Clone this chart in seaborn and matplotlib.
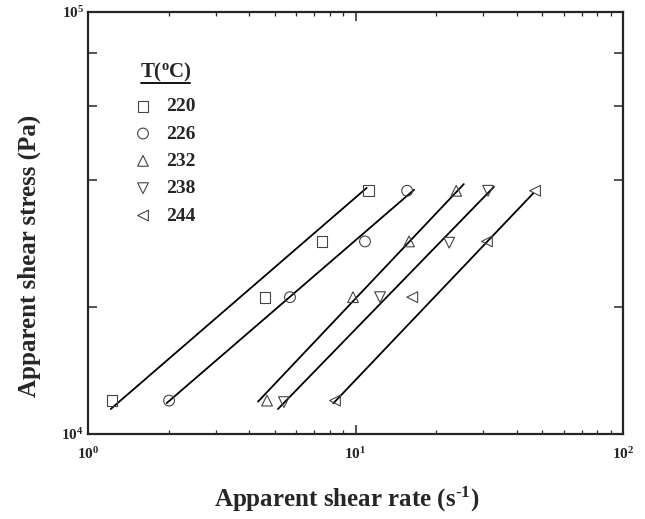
import matplotlib
matplotlib.use('Agg')
import matplotlib.pyplot as plt
import matplotlib.ticker as mticker
import seaborn as sns
import numpy as np
import pandas as pd

# temperatures (legend) and marker shapes
temps = ['220', '226', '232', '238', '244']
markers = ['s', 'o', '^', 'v', '<']

# shear stress levels (Pa), same for every temperature
stress = [1.20e4, 2.11e4, 2.86e4, 3.77e4]

# apparent shear rate (1/s) for each temperature
rate_220 = [1.23, 4.59, 7.49, 11.2]
rate_226 = [2.01, 5.69, 10.85, 15.6]
rate_232 = [4.67, 9.79, 15.85, 23.8]
rate_238 = [5.40, 12.35, 22.4, 31.3]
rate_244 = [8.38, 16.3, 31.0, 46.9]
stress_238 = [1.19e4, 2.11e4, 2.84e4, 3.77e4]

# fitted lines: start / end points
fit_x0 = [1.216, 1.97, 4.32, 5.13, 8.26]
fit_x1 = [11.01, 16.55, 25.4, 32.9, 46.2]
fit_y0 = [1.146e4, 1.184e4, 1.193e4, 1.146e4, 1.182e4]
fit_y1 = [3.83e4, 3.79e4, 3.91e4, 3.85e4, 3.72e4]

rates = [rate_220, rate_226, rate_232, rate_238, rate_244]
stresses = [stress, stress, stress, stress_238, stress]

sns.set_style('ticks')
plt.rcParams['font.family'] = ['Liberation Serif', 'DejaVu Serif']
plt.rcParams['font.weight'] = 'bold'
plt.rcParams['axes.labelweight'] = 'bold'
plt.rcParams['mathtext.fontset'] = 'custom'
plt.rcParams['mathtext.rm'] = 'Liberation Serif:bold'
plt.rcParams['mathtext.bf'] = 'Liberation Serif:bold'
plt.rcParams['mathtext.it'] = 'Liberation Serif:italic:bold'

fig = plt.figure(figsize=(6.45, 5.19), dpi=100)
ax = fig.add_axes([88 / 645, 1 - 434 / 519, 535 / 645, 422 / 519])

for i, t in enumerate(temps):
    df = pd.DataFrame({'rate': rates[i], 'stress': stresses[i]})
    sns.scatterplot(data=df, x='rate', y='stress', marker=markers[i], s=60,
                    facecolor='none', edgecolor='#444444', linewidth=0.8,
                    label=t, ax=ax, zorder=3)
    fit = pd.DataFrame({'x': [fit_x0[i], fit_x1[i]], 'y': [fit_y0[i], fit_y1[i]]})
    sns.lineplot(data=fit, x='x', y='y', color='black', linewidth=1.3, ax=ax,
                 legend=False, zorder=2)

ax.set_xscale('log')
ax.set_yscale('log')
ax.set_xlim(1, 100)
ax.set_ylim(1e4, 1e5)

ax.xaxis.set_minor_locator(mticker.LogLocator(base=10, subs=np.arange(2, 10)))
ax.yaxis.set_minor_locator(mticker.LogLocator(base=10, subs=[2, 4, 6, 8]))
ax.xaxis.set_minor_formatter(mticker.NullFormatter())
ax.yaxis.set_minor_formatter(mticker.NullFormatter())

ax.tick_params(which='both', direction='in', top=True, right=True, width=1.1)
ax.tick_params(axis='x', which='major', length=6.5, pad=9, labelsize=11)
ax.tick_params(axis='x', which='minor', length=3, width=0.9)
ax.tick_params(axis='y', which='major', length=6.5, pad=3, labelsize=11)
ax.tick_params(axis='y', which='minor', length=6.5, width=1.1)
for sp in ax.spines.values():
    sp.set_linewidth(1.6)

ax.set_xlabel('Apparent shear rate (s$^{\\text{-}1}$)', fontsize=18)
ax.set_ylabel('Apparent shear stress (Pa)', fontsize=18)
ax.xaxis.set_label_coords(0.484, -0.121)
ax.yaxis.set_label_coords(-0.087, 0.422)

leg = ax.legend(loc='upper left', bbox_to_anchor=(0.081, 0.797), frameon=False,
                fontsize=14, borderpad=0, borderaxespad=0,
                handletextpad=0.6, labelspacing=0.5, handlelength=1.2)
for h in leg.legend_handles:
    h.set_facecolor('none')
    h.set_edgecolor('#444444')

# legend heading with underline
ax.text(0.146, 0.856, 'T($^\\mathregular{o}$C)', transform=ax.transAxes,
        ha='center', va='center', fontsize=15)
ax.plot([0.099, 0.191], [0.832, 0.832], transform=ax.transAxes,
        color='black', linewidth=1.3)

fig.savefig('out.png', dpi=100)
